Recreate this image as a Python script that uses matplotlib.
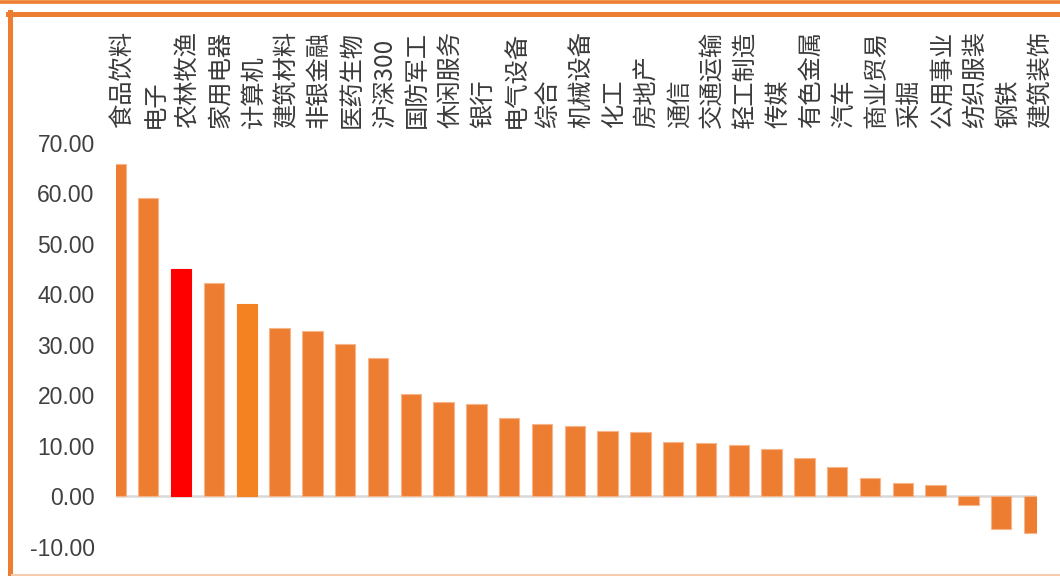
import matplotlib
matplotlib.use("Agg")
import matplotlib.pyplot as plt
from matplotlib.lines import Line2D
import numpy as np

categories = ["食品饮料", "电子", "农林牧渔", "家用电器", "计算机", "建筑材料", "非银金融",
              "医药生物", "沪深300", "国防军工", "休闲服务", "银行", "电气设备", "综合",
              "机械设备", "化工", "房地产", "通信", "交通运输", "轻工制造", "传媒",
              "有色金属", "汽车", "商业贸易", "采掘", "公用事业", "纺织服装", "钢铁", "建筑装饰"]
values = [65.8, 59.1, 45.1, 42.2, 38.1, 33.4, 32.7, 30.1, 27.4, 20.2, 18.6, 18.3, 15.5, 14.3,
          14.0, 13.0, 12.7, 10.8, 10.6, 10.1, 9.35, 7.6, 5.8, 3.6, 2.7, 2.25, -1.8, -6.5, -7.3]
y_ticks = [-10, 0, 10, 20, 30, 40, 50, 60, 70]

base_color = "#ED7D31"
special_colors = {"农林牧渔": "#FF0000", "计算机": "#F58220"}

plt.rcParams['font.family'] = ['Liberation Sans', 'DejaVu Sans']

W, H = 1060, 576
fig = plt.figure(figsize=(W / 100, H / 100), dpi=100)

left_px, right_px = 115.5, 1037
top_px, bot_px = 143, 546.7
ax = fig.add_axes([left_px / W, 1 - bot_px / H, (right_px - left_px) / W, (bot_px - top_px) / H])

x = np.arange(len(categories))
colors = [special_colors.get(c, base_color) for c in categories]
edges = ["#F6B58A" if col == base_color else col for col in colors]
ax.bar(x, values, width=0.62, color=colors, edgecolor=edges, linewidth=0.8, zorder=3)
ax.axhline(0, xmax=0.997, color="#D9D9D9", linewidth=1.8, zorder=2)

ax.set_xlim(0, 28.09)
ax.set_ylim(-10, 70)
ax.set_yticks(y_ticks)
ax.set_yticklabels([f"{v:.2f}" for v in y_ticks])
ax.tick_params(axis='y', length=0, pad=15, labelsize=16.5, labelcolor="#404040")
ax.set_xticks([])
for s in ax.spines.values():
    s.set_visible(False)

# category labels above the plot
label_y = 1 - 128 / H
for i, c in enumerate(categories):
    xd = ax.transData.transform((i + 0.2, 0))[0] / W
    fig.text(xd, label_y, c, rotation=90, ha='center', va='bottom',
             fontsize=17.5, color="#3A3A3A",
             family=['Noto Sans CJK SC', 'DejaVu Sans'])

# decorative frame lines
fig.add_artist(Line2D([0, 1], [1 - 1.5 / H, 1 - 1.5 / H], color=base_color, linewidth=2.6))
fig.add_artist(Line2D([8 / W, 1], [1 - 14 / H, 1 - 14 / H], color=base_color, linewidth=3.6))
fig.add_artist(Line2D([10 / W, 10 / W], [0, 1 - 12 / H], color=base_color, linewidth=3.6))
fig.add_artist(Line2D([12 / W, 1], [1 / H, 1 / H], color="#F8CBAD", linewidth=1.5))

fig.savefig("out.png", dpi=100)
